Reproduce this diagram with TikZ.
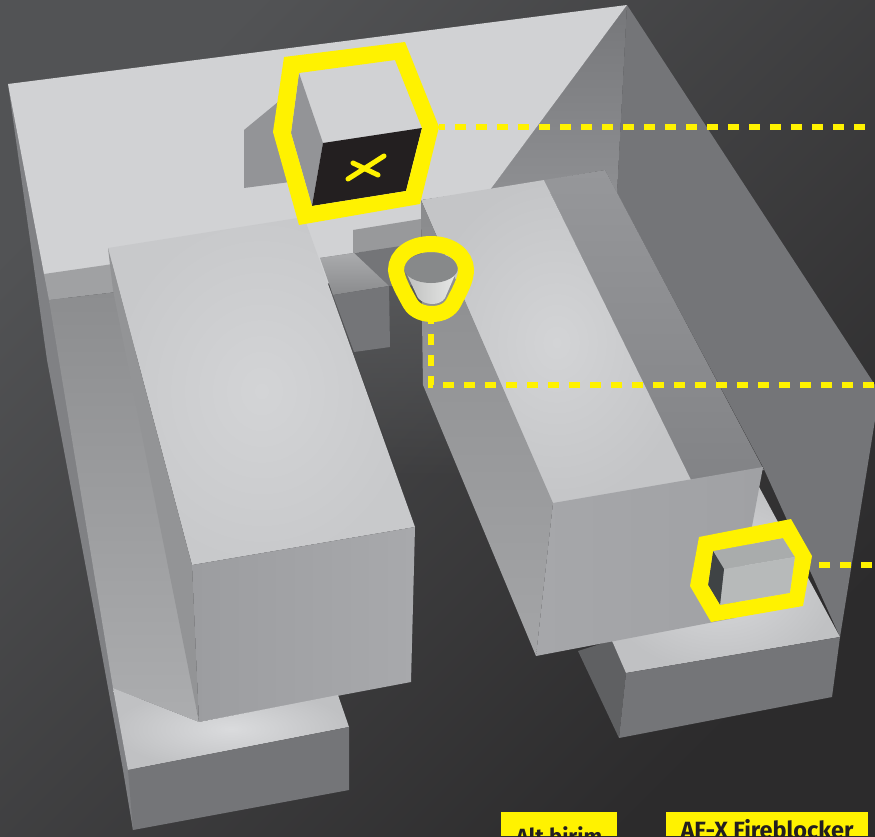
\documentclass[tikz,border=0pt]{standalone}
\usepackage{fontspec}
\usetikzlibrary{fadings}
\setmainfont{Fira Sans}
\definecolor{yel}{HTML}{FFF200}
\definecolor{ink}{HTML}{231F20}
\definecolor{lite}{HTML}{D3D4D6}
\definecolor{plate}{HTML}{D1D2D4}
\definecolor{frontgray}{HTML}{747578}
\definecolor{bgA}{HTML}{525355}
\definecolor{bgB}{HTML}{2C2B2C}
\definecolor{strip}{HTML}{808184}
\definecolor{wallR}{HTML}{747578}
\definecolor{wallA}{HTML}{76777A}
\definecolor{wallB}{HTML}{8E8F92}
\definecolor{band}{HTML}{A0A1A3}
\definecolor{innA}{HTML}{8C8D8F}
\definecolor{innB}{HTML}{ACADAF}
\definecolor{floorA}{HTML}{58595B}
\definecolor{stepA}{HTML}{98999B}
\definecolor{stepB}{HTML}{AAABAD}
\definecolor{stepC}{HTML}{8A8B8D}
\definecolor{shadowg}{HTML}{939497}
\definecolor{edgeL}{HTML}{C8C9CB}
\definecolor{edgeR}{HTML}{C4C5C7}
\definecolor{sideg}{HTML}{939496}
\definecolor{frontA}{HTML}{9C9DA0}
\definecolor{frontB}{HTML}{A8A9AC}
\definecolor{baseIn}{HTML}{DADBDD}
\definecolor{baseOut}{HTML}{C0C1C3}
\definecolor{baseSide}{HTML}{5F6062}
\definecolor{rsideA}{HTML}{96979A}
\definecolor{rsideB}{HTML}{828386}
\definecolor{rleftA}{HTML}{8A8B8D}
\definecolor{rleftB}{HTML}{A4A5A7}
\definecolor{rfrontA}{HTML}{A6A7AA}
\definecolor{rfrontB}{HTML}{A0A1A4}
\definecolor{cupA}{HTML}{BEBFBE}
\definecolor{cupB}{HTML}{E8E9E8}
\definecolor{cupT}{HTML}{87898A}
\definecolor{boxT}{HTML}{A9ACAC}
\definecolor{boxF}{HTML}{B7BABA}
\definecolor{boxS}{HTML}{3F4345}
\tikzset{
  ring/.style={fill=yel,even odd rule,draw=none},
  dashline/.style={draw=yel,line width=5.2pt,dash pattern=on 10.7pt off 10.3pt},
  toplight/.style={shading=radial,inner color=lite,outer color=#1},
  labeltext/.style={text=ink,inner sep=0pt,anchor=base,font=\bfseries},
}
\begin{document}
\begin{tikzpicture}[x=1pt,y=-1pt]
\useasboundingbox (0,0) rectangle (875,836);
\clip (0,0) rectangle (875,836);
% background
\shade[shading=axis,top color=bgA,bottom color=bgB,shading angle=45] (0,0) rectangle (875,836);
% outer strip along left edge
\fill[strip] (8,84) -- (47,360) -- (92,600) -- (123,770) -- (133,830) -- (140,700) -- (60,280) -- cycle;
% right-hand walls
\fill[wallR] (627,5) -- (875,385) -- (875,420) -- (840,637) -- (763,467) -- (617,193) -- cycle;
\shade[shading=axis,top color=wallA,bottom color=wallB] (627,5) -- (490,190) -- (605,170) -- (617,193) -- cycle;
% top plate
\fill[plate] (8,84) -- (627,5) -- (490,190) -- (421,200) -- (421,262) -- (300,290) -- (44,274) -- cycle;
% band below plate
\fill[band] (44,274) -- (120,263) -- (125,291) -- (49,300) -- cycle;
% inner left wall
\shade[shading=axis,top color=innA,bottom color=innB] (49,300) -- (125,291) -- (199,722) -- (113,688) -- cycle;
% floor dark area
\fill[floorA,path fading=south] (330,290) -- (430,265) -- (480,480) -- (400,480) -- cycle;
% central steps
\fill[stepA] (353,230) -- (421,219) -- (421,245) -- (353,253) -- cycle;
\fill[frontgray] (320,258) -- (354,253) -- (421,243) -- (421,285) -- (389,286) -- cycle;
\shade[shading=axis,top color=stepB,bottom color=stepC] (320,258) -- (354,253) -- (389,286) -- (333,295) -- cycle;
\fill[frontgray] (333,295) -- (389,286) -- (390,347) -- (354,352) -- cycle;
% cube shadow
\fill[shadowg] (244,130) -- (278,102) -- (290,182) -- (244,188) -- cycle;
% left block
\shade[toplight=edgeL] (108,248) -- (304,217) -- (415,527) -- (192,565) -- cycle;
\fill[sideg] (108,248) -- (192,565) -- (199,722) -- (113,290) -- cycle;
\shade[shading=axis,left color=frontA,right color=frontB] (192,565) -- (415,527) -- (411,682) -- (199,722) -- cycle;
% lower-left base
\shade[shading=radial,inner color=baseIn,outer color=baseOut] (113,688) -- (199,722) -- (338,695) -- (349,727) -- (128,770) -- cycle;
\fill[frontgray] (128,770) -- (349,727) -- (349,790) -- (133,830) -- cycle;
% lower-right base
\fill[baseSide] (578,651) -- (613,640) -- (626,673) -- (619,738) -- cycle;
\shade[shading=radial,inner color=baseIn,outer color=baseOut] (758,485) -- (840,637) -- (626,673) -- (613,643) -- (600,620) -- (740,560) -- cycle;
\fill[frontgray] (626,673) -- (840,637) -- (832,697) -- (619,738) -- cycle;
% right block
\shade[shading=axis,top color=rsideA,bottom color=rsideB] (544,180) -- (605,170) -- (764,470) -- (691,482) -- cycle;
\shade[toplight=edgeR] (421,200) -- (544,180) -- (692,482) -- (553,505) -- cycle;
\shade[shading=axis,top color=rleftA,bottom color=rleftB] (421,200) -- (553,503) -- (536,656) -- (423,385) -- (422,320) -- cycle;
\shade[shading=axis,left color=rfrontA,right color=rfrontB] (553,503) -- (763,467) -- (735,618) -- (536,656) -- cycle;
% cube
\fill[plate] (299,73) -- (395,60) -- (422,128) -- (323,143) -- cycle;
\fill[shadowg] (299,73) -- (323,143) -- (312,206) -- (291,133) -- cycle;
\fill[ink] (323,143) -- (422,128) -- (406,191) -- (312,206) -- cycle;
\draw[yel,line width=5pt,line cap=round] (348,179) -- (384,156);
\draw[yel,line width=5pt,line cap=round] (353,163) -- (378,175);
% cup
\shade[shading=axis,left color=cupA,right color=cupB] (404,268) -- (458,268) -- (445,298) .. controls (440,306) and (425,306) .. (418,298) -- cycle;
\fill[cupT] (431,268) ellipse [x radius=27, y radius=15];
% small box
\fill[boxT] (713,551) -- (783,538) -- (795,557) -- (724,569) -- cycle;
\fill[boxF] (724,569) -- (795,557) -- (790,593) -- (720,605) -- cycle;
\fill[boxS] (713,551) -- (724,569) -- (720,605) -- (708,585) -- cycle;
% connector end points
\coordinate (hexA) at (439,127);
\coordinate (endA) at (875,127);
\coordinate (cupOut) at (431,322);
\coordinate (bendB) at (431,385);
\coordinate (endB) at (875,385);
\coordinate (hexC) at (819,565);
\coordinate (endC) at (875,565);
\draw[dashline,dash phase=5pt] (hexA) -- (endA);
\draw[dashline,dash phase=9pt] (cupOut) -- (bendB) -- (endB);
\draw[dashline] (hexC) -- (endC);
% yellow rings
\fill[ring] (284,57) -- (405,42) -- (439,127) -- (420,204) -- (299,225) -- (273,132) -- cycle
  (299,73) -- (395,60) -- (422,128) -- (406,191) -- (312,206) -- (291,133) -- cycle;
\fill[ring] (699,537) -- (791,519) -- (812,556) -- (803,606) -- (711,622) -- (690,586) -- cycle
  (713,551) -- (783,538) -- (795,557) -- (790,593) -- (720,605) -- (708,585) -- cycle;
\draw[yel,line width=16pt] (431,244) .. controls (411,244) and (396,255) .. (396,270)
  .. controls (397,280) and (404,292) .. (410,303)
  .. controls (415,312) and (425,314) .. (432,314)
  .. controls (442,314) and (450,310) .. (454,302)
  .. controls (460,290) and (466,280) .. (466,270)
  .. controls (466,255) and (451,244) .. (431,244) -- cycle;
% labels
\fill[yel] (501,812) rectangle (617,836);
\fill[yel] (666,812) rectangle (868,836);
\node[labeltext] (lblA) at (559,844) {\fontsize{22}{24}\selectfont Alt birim};
\node[labeltext] (lblB) at (767,838) {\fontsize{23.5}{26}\selectfont AF-X Fireblocker};
\end{tikzpicture}
\end{document}
